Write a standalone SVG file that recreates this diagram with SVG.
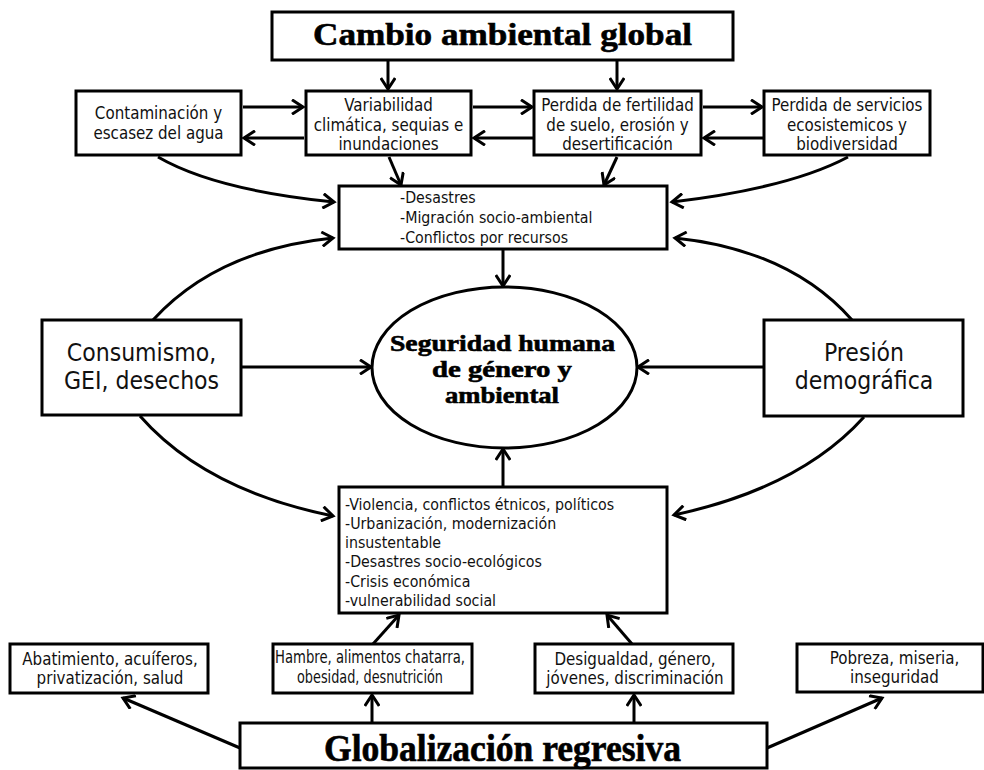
<svg xmlns="http://www.w3.org/2000/svg" width="984" height="770" viewBox="0 0 984 770">
<style>
.box{fill:#fff;stroke:#000;stroke-width:3}
.t{font-family:"DejaVu Sans Condensed","DejaVu Sans",sans-serif;font-size:16.8px;fill:#111;text-anchor:middle}
.l{font-family:"DejaVu Sans Condensed","DejaVu Sans",sans-serif;font-size:15.8px;fill:#111}
.big{font-family:"DejaVu Sans Condensed","DejaVu Sans",sans-serif;font-size:24.5px;fill:#111;text-anchor:middle}
.ttl{font-family:"Liberation Serif",serif;font-weight:bold;fill:#000;stroke:#000;stroke-width:0.6;text-anchor:middle}
.c{fill:none;stroke:#000;stroke-width:3;marker-end:url(#ah)}
</style>
<defs>
<marker id="ah" markerUnits="userSpaceOnUse" viewBox="0 0 16 16" refX="13" refY="8" markerWidth="16" markerHeight="16" orient="auto">
<path d="M2,0.8 L13,8 L2,15.2" fill="none" stroke="#000" stroke-width="3"/>
</marker>
</defs>
<rect width="984" height="770" fill="#fff"/>

<g id="connectors">
<path class="c" d="M388,61 L388,89"/>
<path class="c" d="M617,61 L617,89"/>
<path class="c" d="M243,107 L303,107"/>
<path class="c" d="M304,138 L244,138"/>
<path class="c" d="M473,107 L532,107"/>
<path class="c" d="M533,138 L474,138"/>
<path class="c" d="M703,107 L762,107"/>
<path class="c" d="M763,138 L704,138"/>
<path class="c" d="M389,157 L401,185"/>
<path class="c" d="M617,157 L604,185"/>
<path class="c" d="M158,157 Q215,190 334,202"/>
<path class="c" d="M848,157 Q790,188 672,202"/>
<path class="c" d="M153,320 Q217,250 333,238"/>
<path class="c" d="M852,320 Q790,250 675,238"/>
<path class="c" d="M503,250 L503,286"/>
<path class="c" d="M242,367 L371,367"/>
<path class="c" d="M763,367 L638,367"/>
<path class="c" d="M140,416 Q205,490 333,516"/>
<path class="c" d="M864,417 Q800,488 674,515"/>
<path class="c" d="M503,487 L503,449"/>
<path class="c" d="M373,644 L399,615"/>
<path class="c" d="M632,644 L607,615"/>
<path class="c" d="M372,723 L372,695"/>
<path class="c" d="M634,723 L634,695"/>
<path class="c" d="M240,748 L123,698"/>
<path class="c" d="M767,748 L882,698"/>
</g>

<g id="cambio">
<rect class="box" x="272" y="12" width="461" height="48"/>
<text class="ttl" x="502.5" y="45" font-size="32" textLength="379" lengthAdjust="spacingAndGlyphs">Cambio ambiental global</text>
</g>

<g id="contaminacion">
<rect class="box" x="76" y="91" width="165" height="64"/>
<text class="t" x="158.5" y="119">Contaminación y</text>
<text class="t" x="158.5" y="139">escasez del agua</text>
</g>

<g id="variabilidad">
<rect class="box" x="306" y="91" width="165" height="64"/>
<text class="t" x="388.5" y="111">Variabilidad</text>
<text class="t" x="388.5" y="131">climática, sequias e</text>
<text class="t" x="388.5" y="150">inundaciones</text>
</g>

<g id="fertilidad">
<rect class="box" x="534" y="91" width="167" height="64"/>
<text class="t" x="617.5" y="111">Perdida de fertilidad</text>
<text class="t" x="617.5" y="131">de suelo, erosión y</text>
<text class="t" x="617.5" y="150">desertificación</text>
</g>

<g id="servicios">
<rect class="box" x="764" y="91" width="166" height="64"/>
<text class="t" x="847" y="111">Perdida de servicios</text>
<text class="t" x="847" y="131">ecosistemicos y</text>
<text class="t" x="847" y="150">biodiversidad</text>
</g>

<g id="desastres">
<rect class="box" x="339" y="186" width="328" height="63"/>
<text class="l" x="400" y="203">-Desastres</text>
<text class="l" x="400" y="223">-Migración socio-ambiental</text>
<text class="l" x="400" y="243">-Conflictos por recursos</text>
</g>

<g id="seguridad">
<ellipse cx="504.5" cy="367.5" rx="132.5" ry="80.5" fill="#fff" stroke="#000" stroke-width="3"/>
<text class="ttl" x="502.5" y="351" font-size="23" textLength="225" lengthAdjust="spacingAndGlyphs">Seguridad humana</text>
<text class="ttl" x="502" y="377" font-size="23" textLength="140" lengthAdjust="spacingAndGlyphs">de género y</text>
<text class="ttl" x="502" y="403" font-size="23" textLength="114" lengthAdjust="spacingAndGlyphs">ambiental</text>
</g>

<g id="consumismo">
<rect class="box" x="42" y="320" width="199" height="95"/>
<text class="big" x="141.5" y="361">Consumismo,</text>
<text class="big" x="141.5" y="389">GEI, desechos</text>
</g>

<g id="presion">
<rect class="box" x="764" y="320" width="199" height="96"/>
<text class="big" x="864" y="361">Presión</text>
<text class="big" x="864" y="389">demográfica</text>
</g>

<g id="violencia">
<rect class="box" x="339" y="487" width="328" height="126"/>
<text class="l" x="345" y="510">-Violencia, conflictos étnicos, políticos</text>
<text class="l" x="345" y="529">-Urbanización, modernización</text>
<text class="l" x="345" y="548">insustentable</text>
<text class="l" x="345" y="567">-Desastres socio-ecológicos</text>
<text class="l" x="345" y="587">-Crisis económica</text>
<text class="l" x="345" y="606">-vulnerabilidad social</text>
</g>

<g id="abatimiento">
<rect class="box" x="10" y="644" width="198" height="49"/>
<text class="t" x="110" y="665">Abatimiento, acuíferos,</text>
<text class="t" x="110" y="684">privatización, salud</text>
</g>

<g id="hambre">
<rect class="box" x="273" y="644" width="199" height="49"/>
<text class="t" x="370" y="663" textLength="190" lengthAdjust="spacingAndGlyphs">Hambre, alimentos chatarra,</text>
<text class="t" x="370" y="683" textLength="146" lengthAdjust="spacingAndGlyphs">obesidad, desnutrición</text>
</g>

<g id="desigualdad">
<rect class="box" x="535" y="644" width="198" height="49"/>
<text class="t" x="635" y="665">Desigualdad, género,</text>
<text class="t" x="635" y="684">jóvenes, discriminación</text>
</g>

<g id="pobreza">
<rect class="box" x="797" y="644" width="186" height="48"/>
<text class="t" x="894.5" y="664">Pobreza, miseria,</text>
<text class="t" x="894.5" y="683">inseguridad</text>
</g>

<g id="globalizacion">
<rect class="box" x="240" y="723" width="527" height="45"/>
<text class="ttl" x="502.5" y="761" font-size="37" stroke-width="0.8" textLength="357" lengthAdjust="spacingAndGlyphs">Globalización regresiva</text>
</g>
</svg>
